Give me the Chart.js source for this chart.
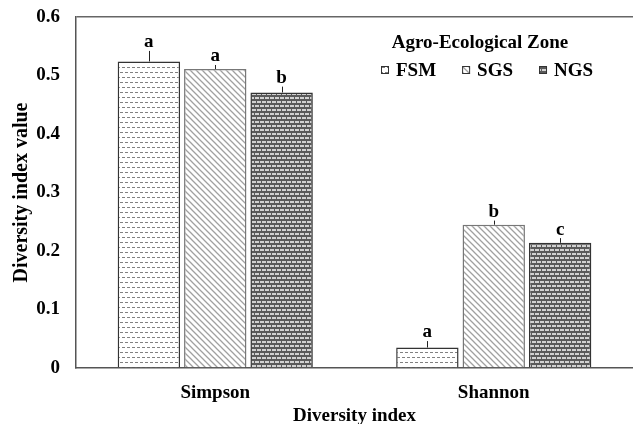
<!DOCTYPE html>
<html>
<head>
<meta charset="utf-8">
<script src="https://cdn.jsdelivr.net/npm/chart.js@4.4.1/dist/chart.umd.min.js"></script>
<style>
  html, body { margin: 0; padding: 0; background: #fff; }
  #wrap { width: 633px; height: 424px; }
</style>
</head>
<body>
<div id="wrap"><canvas id="myChart"></canvas></div>
<script>
// values
const indices = ["Simpson", "Shannon"];
const zones = ["FSM", "SGS", "NGS"];
const fsm = [0.524, 0.035];
const sgs = [0.511, 0.245];
const ngs = [0.471, 0.214];
const fsmErr = [0.018, 0.011];
const sgsErr = [0.007, 0.007];
const ngsErr = [0.010, 0.008];
const fsmLetters = ["a", "a"];
const sgsLetters = ["a", "b"];
const ngsLetters = ["b", "c"];
const yTicks = [0, 0.1, 0.2, 0.3, 0.4, 0.5, 0.6];
const legendTitle = "Agro-Ecological Zone";

const FONT = "'Liberation Serif', 'Times New Roman', serif";

function makePattern(kind) {
  const c = document.createElement("canvas");
  const g = c.getContext("2d");
  if (kind === "dash") {
    c.width = 10; c.height = 10;
    g.fillStyle = "#fff"; g.fillRect(0, 0, 10, 10);
    g.fillStyle = "#808080";
    g.fillRect(0, 2, 3, 1); g.fillRect(5, 2, 3, 1);
    g.fillRect(2, 7, 3, 1); g.fillRect(7, 7, 3, 1);
  } else if (kind === "diag") {
    c.width = 6; c.height = 6;
    g.fillStyle = "#fff"; g.fillRect(0, 0, 6, 6);
    g.strokeStyle = "#a0a0a0"; g.lineWidth = 1.3;
    g.beginPath();
    g.moveTo(-1, -1); g.lineTo(7, 7);
    g.moveTo(-1, 5); g.lineTo(1, 7);
    g.moveTo(5, -1); g.lineTo(7, 1);
    g.stroke();
  } else {
    c.width = 10; c.height = 8;
    g.fillStyle = "#5a5a5a"; g.fillRect(0, 0, 10, 8);
    g.fillStyle = "#d2d2d2";
    g.fillRect(0, 1, 4, 2); g.fillRect(5, 1, 4, 2);
    g.fillRect(0, 5, 1, 2); g.fillRect(2, 5, 4, 2); g.fillRect(7, 5, 3, 2);
  }
  return g.createPattern(c, "repeat");
}

const errs = [fsmErr, sgsErr, ngsErr];
const letters = [fsmLetters, sgsLetters, ngsLetters];

const errorBars = {
  id: "errorBars",
  afterDatasetsDraw(chart) {
    const ctx = chart.ctx;
    const y = chart.scales.y;
    ctx.save();
    chart.data.datasets.forEach((ds, i) => {
      const meta = chart.getDatasetMeta(i);
      meta.data.forEach((bar, j) => {
        const top = y.getPixelForValue(ds.data[j] + errs[i][j]);
        ctx.strokeStyle = "#222";
        ctx.lineWidth = 1;
        ctx.beginPath();
        ctx.moveTo(Math.round(bar.x) + 0.5, bar.y);
        ctx.lineTo(Math.round(bar.x) + 0.5, top);
        ctx.stroke();
        ctx.fillStyle = "#000";
        ctx.font = "bold 19px " + FONT;
        ctx.textAlign = "center";
        ctx.textBaseline = "bottom";
        ctx.fillText(letters[i][j], bar.x, top + 1);
      });
    });
    ctx.restore();
  }
};

// legend drawn in the top right of the plot, like the original
const zoneLegend = {
  id: "zoneLegend",
  afterDraw(chart) {
    const ctx = chart.ctx;
    const area = chart.chartArea;
    ctx.save();
    ctx.fillStyle = "#000";
    ctx.font = "bold 19px " + FONT;
    ctx.textBaseline = "middle";
    ctx.textAlign = "center";
    ctx.fillText(legendTitle, area.right - 153, area.top + 26);
    ctx.textAlign = "left";
    let x = area.right - 252;
    const ly = area.top + 53;
    chart.data.datasets.forEach((ds) => {
      ctx.fillStyle = ds.backgroundColor;
      ctx.fillRect(x, ly - 4, 8, 8);
      ctx.strokeStyle = "#333";
      ctx.lineWidth = 1;
      ctx.strokeRect(x + 0.5, ly - 3.5, 7, 7);
      ctx.fillStyle = "#000";
      ctx.fillText(ds.label, x + 15, ly + 1);
      x += 15 + ctx.measureText(ds.label).width + 26;
    });
    ctx.restore();
  }
};

new Chart(document.getElementById("myChart"), {
  type: "bar",
  data: {
    labels: indices,
    datasets: [
      { label: zones[0], data: fsm, backgroundColor: makePattern("dash"), borderColor: "#333", borderWidth: 1.5 },
      { label: zones[1], data: sgs, backgroundColor: makePattern("diag"), borderColor: "#777", borderWidth: 1.5 },
      { label: zones[2], data: ngs, backgroundColor: makePattern("brick"), borderColor: "#333", borderWidth: 1.5 }
    ]
  },
  options: {
    responsive: true,
    maintainAspectRatio: false,
    animation: false,
    layout: { padding: { top: 17, right: 0, left: 0, bottom: 0 } },
    datasets: { bar: { categoryPercentage: 0.715, barPercentage: 0.94 } },
    plugins: {
      tooltip: { enabled: false },
      legend: { display: false }
    },
    scales: {
      x: {
        afterFit(axis) { axis.height = 56; axis.paddingLeft = 0; axis.paddingRight = 0; },
        grid: { display: false, drawTicks: false },
        border: { color: "#555", width: 1.5 },
        ticks: { color: "#000", padding: 14, font: { family: FONT, size: 19, weight: "bold" } },
        title: {
          display: true, text: "Diversity index", color: "#000", padding: { top: 0, bottom: -2 },
          font: { family: FONT, size: 19, weight: "bold", lineHeight: 1 }
        }
      },
      y: {
        min: 0, max: 0.6,
        afterBuildTicks(axis) { axis.ticks = yTicks.map(v => ({ value: v })); },
        afterFit(axis) { axis.width = 76; axis.paddingTop = 0; axis.paddingBottom = 0; },
        grid: {
          drawTicks: false,
          lineWidth: 1.5,
          color: c => (c.tick && c.tick.value === 0.6 ? "#666" : "rgba(0,0,0,0)")
        },
        border: { color: "#555", width: 1.5 },
        ticks: {
          color: "#000", padding: 16,
          font: { family: FONT, size: 19, weight: "bold" },
          callback: v => (v === 0 ? "0" : v.toFixed(1))
        },
        title: {
          display: true, text: "Diversity index value", color: "#000", padding: { top: 10, bottom: 0 },
          font: { family: FONT, size: 20, weight: "bold" }
        }
      }
    }
  },
  plugins: [errorBars, zoneLegend]
});
</script>
</body>
</html>
